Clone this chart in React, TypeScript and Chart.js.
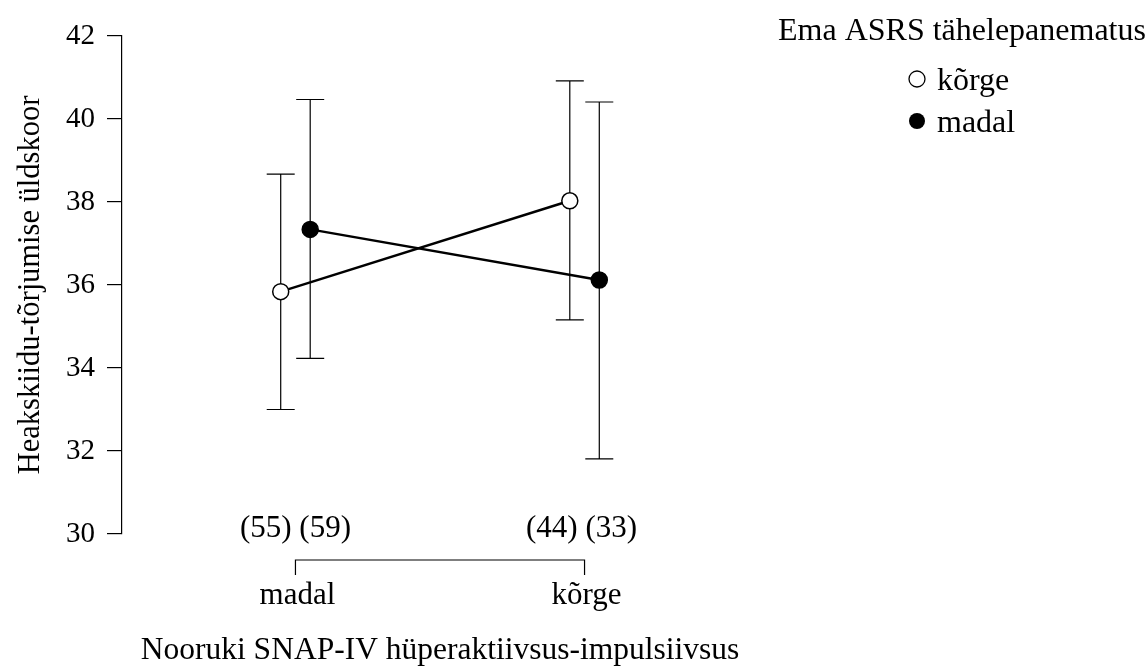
import React, { useEffect, useRef } from "react";
import { Chart, registerables } from "chart.js";

Chart.register(...registerables);

const categories = ["madal", "kõrge"];
const seriesNames = ["kõrge", "madal"];
const legendTitle = "Ema ASRS tähelepanematus";
const xTitle = "Nooruki SNAP-IV hüperaktiivsus-impulsiivsus";
const yTitle = "Heakskiidu-tõrjumise üldskoor";

const highMean = [35.84, 38.03];
const highLow = [33.0, 35.16];
const highHigh = [38.67, 40.92];
const highN = [55, 44];

const lowMean = [37.34, 36.12];
const lowLow = [34.23, 31.81];
const lowHigh = [40.47, 40.41];
const lowN = [59, 33];

const groupX = [1, 2];
const dodge = 0.051;
const FONT = "'Liberation Serif', 'Times New Roman', serif";

export default function App() {
  const ref = useRef<HTMLCanvasElement | null>(null);

  useEffect(() => {
    document.body.style.margin = "0";
    const canvas = ref.current;
    if (!canvas) return;

    const errors = [
      { x: groupX.map((g) => g - dodge), lo: highLow, hi: highHigh },
      { x: groupX.map((g) => g + dodge), lo: lowLow, hi: lowHigh },
    ];

    const extras = {
      id: "extras",
      beforeDatasetsDraw(chart: any) {
        const ctx = chart.ctx;
        const xs = chart.scales.x;
        const ys = chart.scales.y;
        ctx.save();
        ctx.strokeStyle = "#000";
        ctx.lineWidth = 1.2;
        const cap = 14;
        errors.forEach((e) => {
          e.x.forEach((xv, i) => {
            const px = xs.getPixelForValue(xv);
            const y1 = ys.getPixelForValue(e.lo[i]);
            const y2 = ys.getPixelForValue(e.hi[i]);
            ctx.beginPath();
            ctx.moveTo(px, y1);
            ctx.lineTo(px, y2);
            ctx.moveTo(px - cap, y1);
            ctx.lineTo(px + cap, y1);
            ctx.moveTo(px - cap, y2);
            ctx.lineTo(px + cap, y2);
            ctx.stroke();
          });
        });
        ctx.restore();
      },
      afterDraw(chart: any) {
        const ctx = chart.ctx;
        const xs = chart.scales.x;
        const p1 = xs.getPixelForValue(groupX[0]);
        const p2 = xs.getPixelForValue(groupX[1]);
        ctx.save();
        ctx.fillStyle = "#000";
        ctx.strokeStyle = "#000";
        // counts
        ctx.font = `31px ${FONT}`;
        ctx.textAlign = "center";
        ctx.textBaseline = "alphabetic";
        groupX.forEach((g, i) => {
          const px = xs.getPixelForValue(g);
          ctx.fillText(`(${highN[i]}) (${lowN[i]})`, px - 3 * i, 537);
        });
        // bracket
        ctx.lineWidth = 1.2;
        ctx.beginPath();
        ctx.moveTo(p1, 575);
        ctx.lineTo(p1, 560);
        ctx.lineTo(p2, 560);
        ctx.lineTo(p2, 575);
        ctx.stroke();
        // category labels
        ctx.font = `31px ${FONT}`;
        groupX.forEach((g, i) => {
          const px = xs.getPixelForValue(g);
          ctx.fillText(categories[i], px + 2, 604);
        });
        // x title
        ctx.font = `31.5px ${FONT}`;
        ctx.fillText(xTitle, (p1 + p2) / 2, 659);
        // legend
        ctx.font = `32px ${FONT}`;
        ctx.textAlign = "center";
        ctx.fillText(legendTitle, 962, 40);
        ctx.font = `32px ${FONT}`;
        ctx.textAlign = "left";
        const rows = [90, 132];
        seriesNames.forEach((name, i) => {
          const cy = rows[i] - 11;
          ctx.beginPath();
          ctx.arc(917, cy, 8, 0, Math.PI * 2);
          if (i === 0) {
            ctx.fillStyle = "#fff";
            ctx.fill();
            ctx.lineWidth = 1.3;
            ctx.strokeStyle = "#000";
            ctx.stroke();
          } else {
            ctx.fillStyle = "#000";
            ctx.fill();
          }
          ctx.fillStyle = "#000";
          ctx.fillText(name, 937, rows[i]);
        });
        ctx.restore();
      },
    };

    const chart = new Chart(canvas, {
      type: "line",
      data: {
        datasets: [
          {
            label: seriesNames[0],
            data: groupX.map((g, i) => ({ x: g - dodge, y: highMean[i] })),
            borderColor: "#000",
            borderWidth: 2.4,
            pointRadius: 8,
            pointBorderWidth: 1.5,
            pointBackgroundColor: "#fff",
            pointBorderColor: "#000",
            fill: false,
          },
          {
            label: seriesNames[1],
            data: groupX.map((g, i) => ({ x: g + dodge, y: lowMean[i] })),
            borderColor: "#000",
            borderWidth: 2.4,
            pointRadius: 8,
            pointBorderWidth: 1.5,
            pointBackgroundColor: "#000",
            pointBorderColor: "#000",
            fill: false,
          },
        ],
      },
      options: {
        responsive: false,
        animation: false,
        layout: { padding: { top: 36, bottom: 132, left: 0, right: 390 } },
        plugins: { legend: { display: false }, tooltip: { enabled: false } },
        scales: {
          x: { type: "linear", min: 0.4, max: 2.6, display: false },
          y: {
            type: "linear",
            min: 30,
            max: 42,
            afterFit: (s: any) => {
              s.width = 122;
            },
            ticks: {
              stepSize: 2,
              padding: 12,
              color: "#000",
              font: { family: FONT, size: 29 },
            },
            grid: {
              drawOnChartArea: false,
              drawTicks: true,
              tickLength: 15,
              color: "#000",
              lineWidth: 1.2,
            },
            border: { display: true, color: "#000", width: 1.2 },
            title: {
              display: true,
              text: yTitle,
              color: "#000",
              font: { family: FONT, size: 30.5 },
              padding: { top: 13, bottom: 0 },
            },
          },
        },
      },
      plugins: [extras],
    });

    return () => chart.destroy();
  }, []);

  return (
    <div style={{ width: 1148, height: 666 }}>
      <canvas ref={ref} width={1148} height={666} />
    </div>
  );
}
